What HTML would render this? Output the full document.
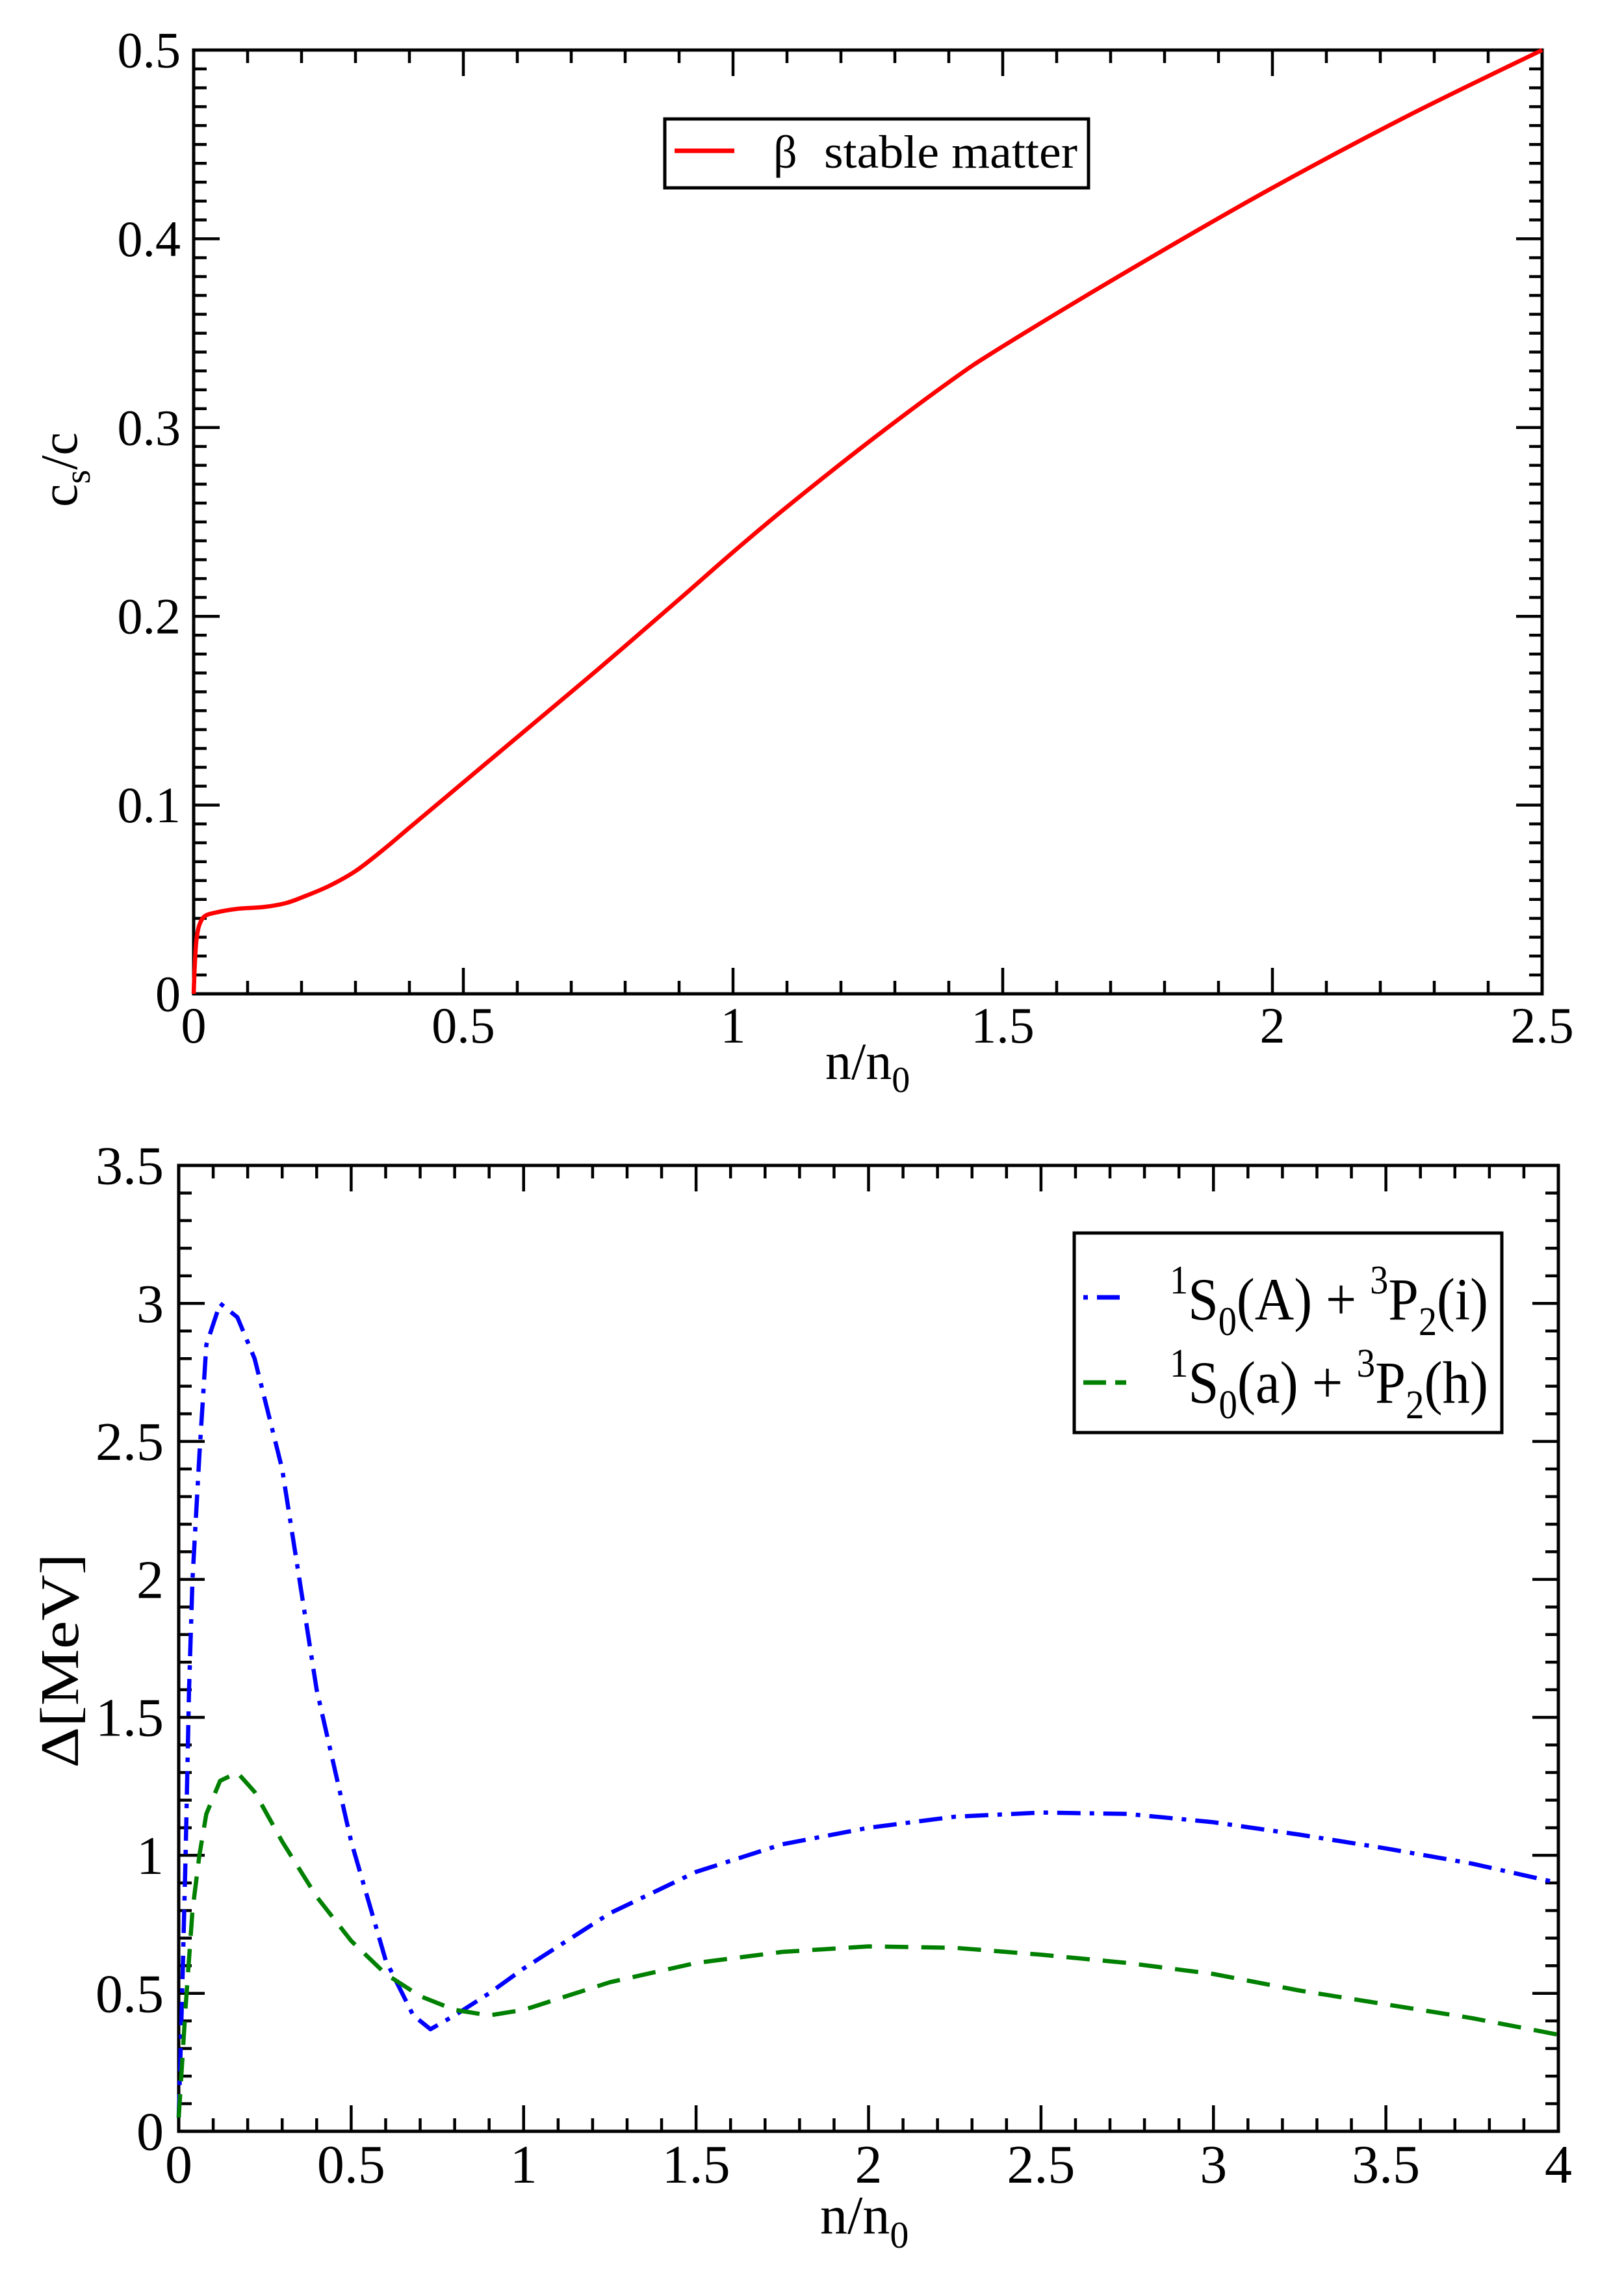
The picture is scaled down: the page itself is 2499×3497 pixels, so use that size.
<!DOCTYPE html>
<html><head><meta charset="utf-8"><style>
html,body{margin:0;padding:0;background:#fff;}
svg{display:block;}
text{font-family:"Liberation Serif",serif;fill:#000;}
</style></head><body>
<svg id="s" width="2499" height="3497" viewBox="0 0 2499 3497" xmlns="http://www.w3.org/2000/svg">
<rect width="2499" height="3497" fill="#fff"/>
<g id="g"></g>
<text x="1270" y="1660" font-size="80">n/n<tspan font-size="56" dy="20">0</tspan></text>
<text transform="translate(118,780) rotate(-90)" font-size="80">c<tspan font-size="56" dy="20">s</tspan><tspan dy="-20">/c</tspan></text>
<rect x="1023" y="183" width="652" height="106" fill="#fff" stroke="#000" stroke-width="5"/>
<line x1="1038" y1="232" x2="1130" y2="232" stroke="#f00" stroke-width="7"/>
<text x="1190" y="258" font-size="72">β</text>
<text x="1268" y="258" font-size="72" textLength="390" lengthAdjust="spacingAndGlyphs">stable matter</text>
<text x="1262" y="3436" font-size="84">n/n<tspan font-size="58" dy="22">0</tspan></text>
<text transform="translate(120,2720) rotate(-90)" font-size="84" textLength="330" lengthAdjust="spacingAndGlyphs">Δ[MeV]</text>
<rect x="1653" y="1897" width="658" height="307" fill="#fff" stroke="#000" stroke-width="5"/>
<line x1="1667" y1="1996" x2="1674" y2="1996" stroke="#00f" stroke-width="7"/>
<line x1="1688" y1="1996" x2="1723" y2="1996" stroke="#00f" stroke-width="7"/>
<line x1="1667" y1="2127" x2="1702" y2="2127" stroke="#008000" stroke-width="7"/>
<line x1="1716" y1="2127" x2="1733" y2="2127" stroke="#008000" stroke-width="7"/>
<text x="1800" y="2030" font-size="92" textLength="490" lengthAdjust="spacingAndGlyphs"><tspan font-size="62" dy="-40">1</tspan><tspan dy="40">S</tspan><tspan font-size="62" dy="24">0</tspan><tspan dy="-24">(A) + </tspan><tspan font-size="62" dy="-40">3</tspan><tspan dy="40">P</tspan><tspan font-size="62" dy="24">2</tspan><tspan dy="-24">(i)</tspan></text>
<text x="1800" y="2158" font-size="92" textLength="490" lengthAdjust="spacingAndGlyphs"><tspan font-size="62" dy="-40">1</tspan><tspan dy="40">S</tspan><tspan font-size="62" dy="24">0</tspan><tspan dy="-24">(a) + </tspan><tspan font-size="62" dy="-40">3</tspan><tspan dy="40">P</tspan><tspan font-size="62" dy="24">2</tspan><tspan dy="-24">(h)</tspan></text>
</svg>
<script>
var NS="http://www.w3.org/2000/svg",g=document.getElementById('g');
function el(t,a,txt){var e=document.createElementNS(NS,t);for(var k in a)e.setAttribute(k,a[k]);if(txt!==undefined)e.textContent=txt;g.appendChild(e);return e;}
function line(x1,y1,x2,y2,w){el('line',{x1:x1,y1:y1,x2:x2,y2:y2,stroke:'#000','stroke-width':w||4.5});}
function axes(L,T,R,B,xmax,xminor,xmajor,ymax,yminor,ymajor,fs,xlab,ylab){
  el('rect',{x:L,y:T,width:R-L,height:B-T,fill:'none',stroke:'#000','stroke-width':5});
  var nx=Math.round(xmax/xminor);
  for(var i=0;i<=nx;i++){var v=i*xminor,x=L+(R-L)*v/xmax;var maj=(i%Math.round(xmajor/xminor)==0);var len=maj?40:20;
    line(x,B,x,B-len);line(x,T,x,T+len);
    if(maj){var s=+v.toFixed(2)+'';el('text',{x:x,y:xlab,'font-size':fs,'text-anchor':'middle'},s);}}
  var ny=Math.round(ymax/yminor);
  for(var j=0;j<=ny;j++){var v=j*yminor,y=B-(B-T)*v/ymax;var maj=(j%Math.round(ymajor/yminor)==0);var len=maj?40:20;
    line(L,y,L+len,y);line(R,y,R-len,y);
    if(maj){var s=+v.toFixed(2)+'';el('text',{x:ylab,y:y+fs*0.34,'font-size':fs,'text-anchor':'end'},s);}}
}
function path(L,T,R,B,xmax,ymax,pts,col,dash,smooth){
  var P=pts.map(function(p){return [L+(R-L)*p[0]/xmax,B-(B-T)*p[1]/ymax];});
  var d='M'+P[0][0].toFixed(1)+' '+P[0][1].toFixed(1);
  for(var i=1;i<P.length;i++){
    if(smooth){var p0=P[Math.max(i-2,0)],p1=P[i-1],p2=P[i],p3=P[Math.min(i+1,P.length-1)];
      var c1=[p1[0]+(p2[0]-p0[0])/6,p1[1]+(p2[1]-p0[1])/6],c2=[p2[0]-(p3[0]-p1[0])/6,p2[1]-(p3[1]-p1[1])/6];
      d+='C'+c1[0].toFixed(1)+' '+c1[1].toFixed(1)+' '+c2[0].toFixed(1)+' '+c2[1].toFixed(1)+' '+p2[0].toFixed(1)+' '+p2[1].toFixed(1);}
    else d+='L'+P[i][0].toFixed(1)+' '+P[i][1].toFixed(1);}
  var a={d:d,fill:'none',stroke:col,'stroke-width':6.5,'stroke-linejoin':'round'};if(dash)a['stroke-dasharray']=dash;el('path',a);
}
axes(298,77,2373,1529,2.5,0.1,0.5,0.5,0.01,0.1,78,1604,278);
path(298,77,2373,1529,2.5,0.5,[[0,0],[0.002,0.015],[0.005,0.028],[0.01,0.036],[0.02,0.041],[0.04,0.043],[0.08,0.045],[0.13,0.046],[0.17,0.048],[0.2,0.051],[0.25,0.057],[0.3,0.065],[0.35,0.076],[0.4,0.088],[0.5,0.112],[0.6,0.136],[0.75,0.172],[0.9,0.209],[1,0.234],[1.1,0.258],[1.25,0.292],[1.4,0.324],[1.5,0.343],[1.75,0.386],[2,0.427],[2.25,0.465],[2.5,0.5]],'#f00',null,true);
axes(275,1793,2398,3279,4,0.1,0.5,3.5,0.1,0.5,84,3358,252);
path(275,1793,2398,3279,4,3.5,[[0,0.05],[0.01,0.5],[0.02,1.0],[0.03,1.6],[0.04,2.0],[0.06,2.45],[0.08,2.85],[0.12,3.0],[0.17,2.95],[0.22,2.8],[0.3,2.4],[0.4,1.6],[0.5,1.05],[0.6,0.62],[0.68,0.42],[0.73,0.37],[0.8,0.42],[0.9,0.5],[1,0.59],[1.25,0.79],[1.5,0.94],[1.75,1.04],[2,1.1],[2.25,1.14],[2.5,1.155],[2.75,1.15],[3,1.12],[3.25,1.075],[3.5,1.025],[3.75,0.97],[4,0.9]],'#00f','36 14 7 14');
path(275,1793,2398,3279,4,3.5,[[0,0.05],[0.01,0.25],[0.02,0.45],[0.04,0.8],[0.06,1.0],[0.08,1.15],[0.12,1.27],[0.17,1.3],[0.22,1.23],[0.3,1.05],[0.4,0.85],[0.5,0.69],[0.6,0.57],[0.7,0.49],[0.8,0.44],[0.9,0.42],[1,0.44],[1.1,0.48],[1.25,0.54],[1.5,0.61],[1.75,0.65],[2,0.67],[2.25,0.665],[2.5,0.64],[2.75,0.61],[3,0.57],[3.25,0.51],[3.5,0.46],[3.75,0.41],[4,0.35]],'#008000','36 20');
</script>
</body></html>
